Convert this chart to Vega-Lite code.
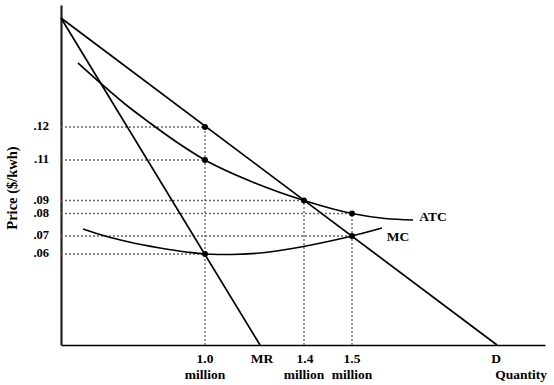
{
  "$schema": "https://vega.github.io/schema/vega-lite/v6.json",
  "width": 484,
  "height": 340,
  "autosize": {"type": "none"},
  "padding": {"left": 61, "top": 5, "right": 9, "bottom": 40},
  "background": "white",
  "config": {"view": {"stroke": null}},
  "datasets": {
    "curves": [
      {"curve": "D", "x": 0, "y": 327}, {"curve": "D", "x": 436, "y": 0},
      {"curve": "MR", "x": 0, "y": 327}, {"curve": "MR", "x": 199, "y": 0},
      {"curve": "ATC", "x": 17, "y": 282}, {"curve": "ATC", "x": 40, "y": 261.5},
      {"curve": "ATC", "x": 64, "y": 241}, {"curve": "ATC", "x": 89, "y": 222},
      {"curve": "ATC", "x": 117, "y": 202}, {"curve": "ATC", "x": 144, "y": 185},
      {"curve": "ATC", "x": 189, "y": 164}, {"curve": "ATC", "x": 243, "y": 144.5},
      {"curve": "ATC", "x": 291, "y": 131.5}, {"curve": "ATC", "x": 324, "y": 126.5},
      {"curve": "ATC", "x": 352, "y": 125},
      {"curve": "MC", "x": 22, "y": 116}, {"curve": "MC", "x": 44, "y": 109},
      {"curve": "MC", "x": 66, "y": 103.5}, {"curve": "MC", "x": 99, "y": 97},
      {"curve": "MC", "x": 125, "y": 93}, {"curve": "MC", "x": 144, "y": 91},
      {"curve": "MC", "x": 170, "y": 90.5}, {"curve": "MC", "x": 199, "y": 92},
      {"curve": "MC", "x": 225, "y": 95.5}, {"curve": "MC", "x": 260, "y": 102},
      {"curve": "MC", "x": 291, "y": 109}, {"curve": "MC", "x": 321, "y": 117}
    ],
    "hguides": [
      {"price": ".12", "y": 218, "x0": 0, "x1": 144},
      {"price": ".11", "y": 185, "x0": 0, "x1": 144},
      {"price": ".09", "y": 144.5, "x0": 0, "x1": 243},
      {"price": ".08", "y": 131.5, "x0": 0, "x1": 291},
      {"price": ".07", "y": 109, "x0": 0, "x1": 291},
      {"price": ".06", "y": 91, "x0": 0, "x1": 144}
    ],
    "vguides": [
      {"q": "1.0 million", "x": 144, "y0": 0, "y1": 218},
      {"q": "1.4 million", "x": 243, "y0": 0, "y1": 144.5},
      {"q": "1.5 million", "x": 291, "y0": 0, "y1": 131.5}
    ],
    "points": [
      {"x": 144, "y": 218}, {"x": 144, "y": 185}, {"x": 243, "y": 144.5},
      {"x": 291, "y": 131.5}, {"x": 291, "y": 109}, {"x": 144, "y": 91}
    ],
    "labels": [
      {"text": "1.0", "x": 144, "y": -14},
      {"text": "million", "x": 144, "y": -30},
      {"text": "MR", "x": 201, "y": -14},
      {"text": "1.4", "x": 244, "y": -14},
      {"text": "million", "x": 243, "y": -30},
      {"text": "1.5", "x": 291, "y": -14},
      {"text": "million", "x": 291, "y": -30},
      {"text": "D", "x": 435, "y": -14},
      {"text": "Quantity", "x": 460, "y": -30},
      {"text": "ATC", "x": 372, "y": 128},
      {"text": "MC", "x": 337, "y": 108}
    ]
  },
  "layer": [
    {
      "data": {"name": "hguides"},
      "mark": {"type": "rule", "color": "#666", "strokeWidth": 1.3, "strokeDash": [2, 2]},
      "encoding": {
        "x": {"field": "x0", "type": "quantitative", "scale": {"domain": [0, 484], "nice": false, "zero": false},
              "axis": {"title": null, "labels": false, "ticks": false, "grid": false, "domainColor": "black", "domainWidth": 1.6}},
        "x2": {"field": "x1"},
        "y": {"field": "y", "type": "quantitative", "scale": {"domain": [0, 340], "nice": false, "zero": false},
              "axis": {"title": null, "labels": false, "ticks": false, "grid": false, "domainColor": "#222", "domainWidth": 2.2}}
      }
    },
    {
      "data": {"name": "vguides"},
      "mark": {"type": "rule", "color": "#666", "strokeWidth": 1.3, "strokeDash": [2, 2]},
      "encoding": {
        "x": {"field": "x", "type": "quantitative"},
        "y": {"field": "y0", "type": "quantitative"},
        "y2": {"field": "y1"}
      }
    },
    {
      "data": {"name": "curves"},
      "mark": {"type": "line", "color": "black", "strokeWidth": 1.7, "interpolate": "monotone"},
      "encoding": {
        "x": {"field": "x", "type": "quantitative"},
        "y": {"field": "y", "type": "quantitative"},
        "detail": {"field": "curve"}
      }
    },
    {
      "data": {"name": "points"},
      "mark": {"type": "circle", "color": "black", "opacity": 1, "size": 36},
      "encoding": {
        "x": {"field": "x", "type": "quantitative"},
        "y": {"field": "y", "type": "quantitative"}
      }
    },
    {
      "data": {"name": "hguides"},
      "mark": {"type": "text", "align": "right", "baseline": "middle", "dx": -12, "dy": -1, "font": "Liberation Serif", "fontWeight": "bold", "fontSize": 12.5},
      "encoding": {
        "x": {"field": "x0", "type": "quantitative"},
        "y": {"field": "y", "type": "quantitative"},
        "text": {"field": "price"}
      }
    },
    {
      "data": {"name": "labels"},
      "mark": {"type": "text", "align": "center", "baseline": "middle", "font": "Liberation Serif", "fontWeight": "bold", "fontSize": 13.5},
      "encoding": {
        "x": {"field": "x", "type": "quantitative"},
        "y": {"field": "y", "type": "quantitative"},
        "text": {"field": "text"}
      }
    },
    {
      "data": {"values": [{"title": "Price ($/kwh)", "x": -48, "y": 157}]},
      "mark": {"type": "text", "angle": 270, "align": "center", "baseline": "middle", "font": "Liberation Serif", "fontWeight": "bold", "fontSize": 14.5},
      "encoding": {
        "x": {"field": "x", "type": "quantitative"},
        "y": {"field": "y", "type": "quantitative"},
        "text": {"field": "title"}
      }
    }
  ]
}
